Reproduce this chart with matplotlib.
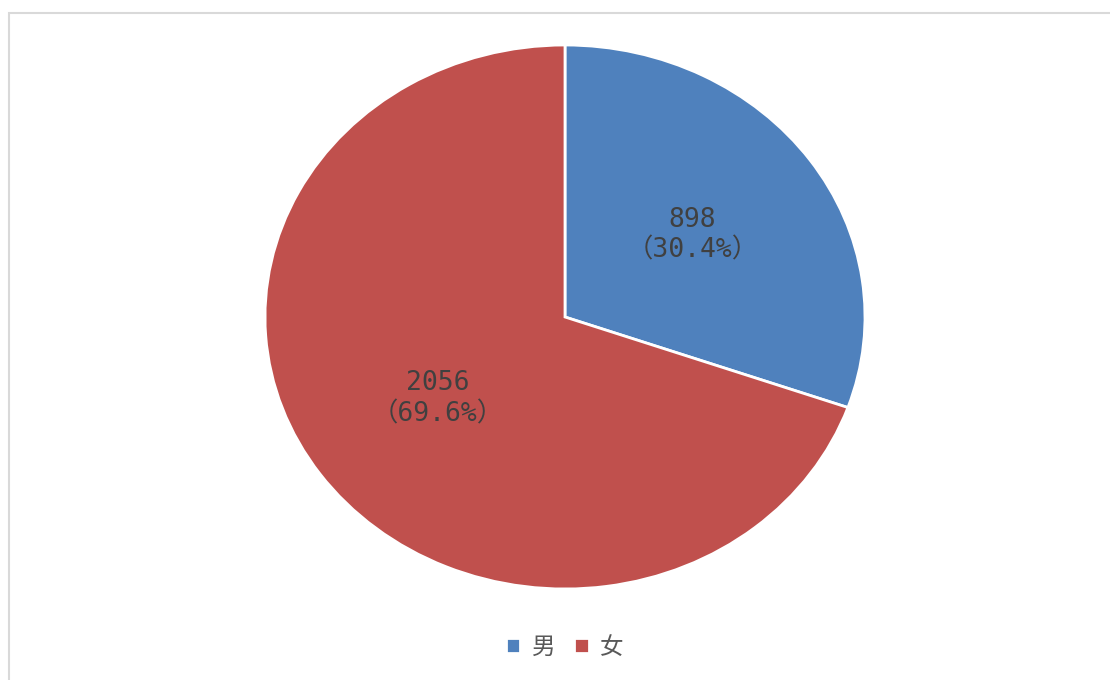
import matplotlib
matplotlib.use('Agg')
import matplotlib.pyplot as plt
from matplotlib.patches import Rectangle

plt.rcParams['font.family'] = ['Noto Sans CJK SC', 'DejaVu Sans']

labels = ['男', '女']
values = [898, 2056]
colors = ['#4f81bd', '#c0504d']

W, H = 1110, 680
fig = plt.figure(figsize=(W / 100, H / 100), dpi=100)
ax = fig.add_axes([0, 0, 1, 1])

total = sum(values)


def fmt(pct):
    v = int(round(pct * total / 100.0))
    return '%d\n（%.1f%%）' % (v, pct)


wedges, texts, autotexts = ax.pie(values, colors=colors, startangle=90, counterclock=False,
                                  autopct=fmt, pctdistance=0.52,
                                  wedgeprops={'edgecolor': 'white', 'linewidth': 2},
                                  textprops={'color': '#404040', 'fontsize': 19})
for t in autotexts:
    t.set_family(['DejaVu Sans Mono', 'Noto Sans CJK SC'])
    t.set_linespacing(1.25)

# pie centre and radii in pixels (stretched horizontally)
cx, cy, rx, ry = 565, 317, 300, 272
ax.set_aspect('auto')
ax.set_xlim(-cx / rx, (W - cx) / rx)
ax.set_ylim(-(H - cy) / ry, cy / ry)
ax.axis('off')

# outer frame
fig.patches.append(Rectangle((9 / W, -0.1), 2, 1 - 13 / H + 0.1, transform=fig.transFigure,
                             fill=False, edgecolor='#d9d9d9', linewidth=1.5))

fig.legend(wedges, labels, loc='center', bbox_to_anchor=(565 / W, 1 - 647 / H),
           ncol=2, frameon=False, fontsize=17, handlelength=0.6, handleheight=0.6,
           handletextpad=0.5, columnspacing=0.8, labelcolor='#595959')

fig.savefig('out.png', dpi=100)
